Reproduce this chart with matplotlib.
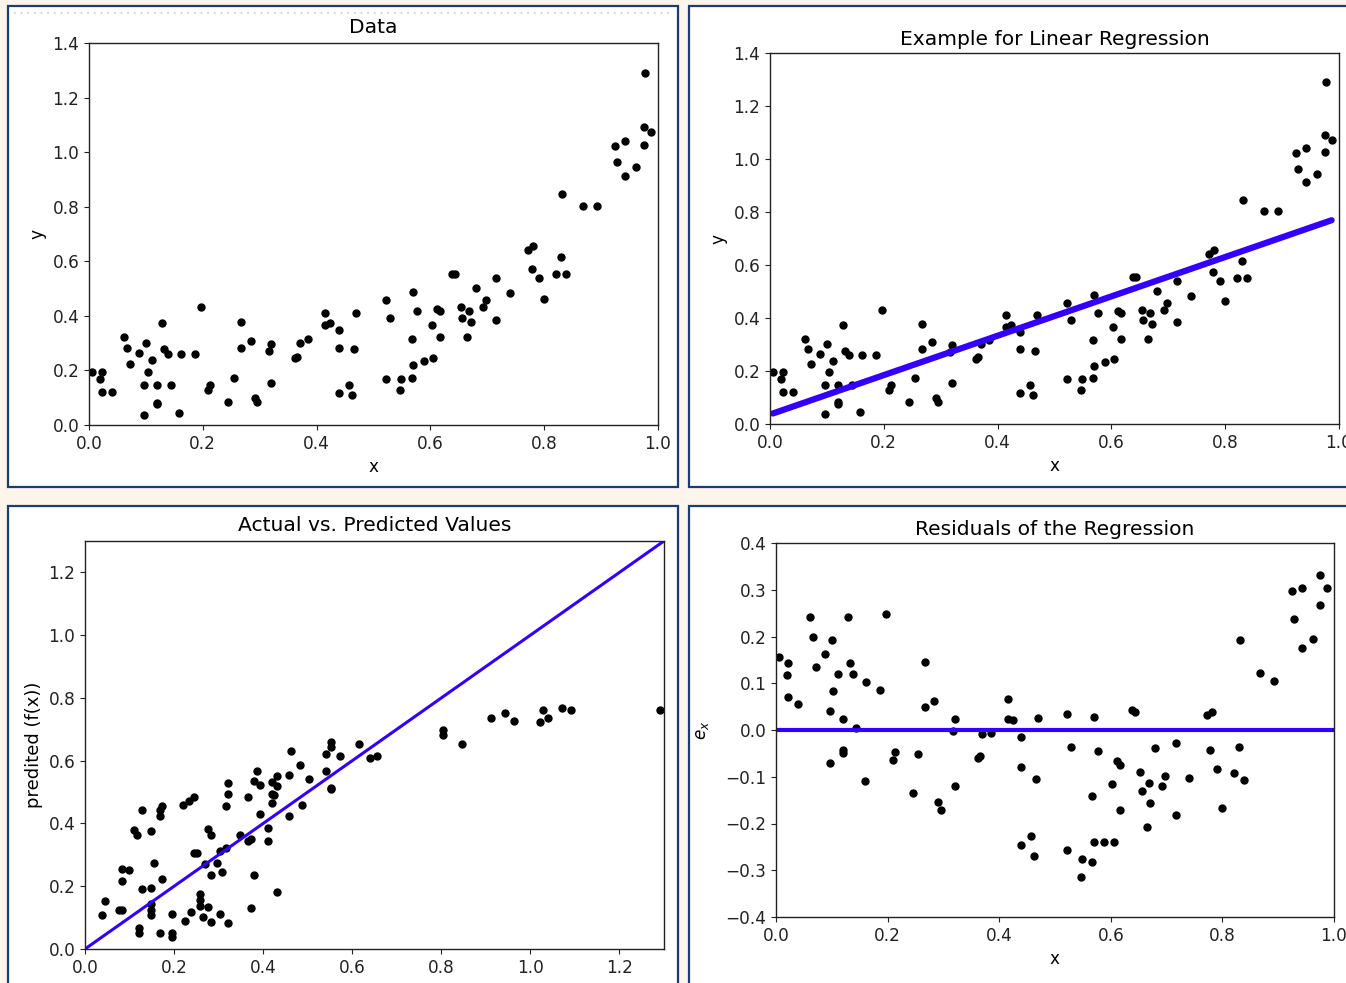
import numpy as np
import matplotlib
matplotlib.use('Agg')
import matplotlib.pyplot as plt
from matplotlib.patches import Rectangle
from matplotlib.lines import Line2D

x = [0.005, 0.019, 0.022, 0.022, 0.040, 0.061, 0.066, 0.072, 0.088, 0.100,
     0.097, 0.097, 0.103, 0.111, 0.120, 0.120, 0.120, 0.129, 0.132, 0.138,
     0.144, 0.159, 0.162, 0.186, 0.197, 0.210, 0.213, 0.245, 0.254, 0.267,
     0.267, 0.284, 0.291, 0.296, 0.317, 0.320, 0.320, 0.362, 0.365, 0.370,
     0.385, 0.415, 0.415, 0.424, 0.439, 0.439, 0.439, 0.457, 0.463, 0.466,
     0.469, 0.522, 0.529, 0.522, 0.546, 0.549, 0.567, 0.567, 0.570, 0.570,
     0.577, 0.588, 0.602, 0.605, 0.612, 0.617, 0.617, 0.638, 0.644, 0.653,
     0.656, 0.665, 0.668, 0.671, 0.680, 0.692, 0.698, 0.716, 0.716, 0.740,
     0.772, 0.781, 0.778, 0.790, 0.800, 0.820, 0.829, 0.832, 0.838, 0.868,
     0.892, 0.925, 0.928, 0.942, 0.942, 0.962, 0.975, 0.975, 0.978, 0.987]
y = [0.195, 0.168, 0.195, 0.122, 0.122, 0.322, 0.283, 0.225, 0.264, 0.302,
     0.148, 0.038, 0.195, 0.239, 0.148, 0.082, 0.076, 0.373, 0.277, 0.259,
     0.148, 0.044, 0.259, 0.259, 0.431, 0.127, 0.148, 0.084, 0.174, 0.379,
     0.283, 0.308, 0.098, 0.084, 0.270, 0.297, 0.154, 0.245, 0.251, 0.302,
     0.316, 0.411, 0.367, 0.373, 0.348, 0.283, 0.116, 0.148, 0.110, 0.277,
     0.411, 0.457, 0.393, 0.168, 0.128, 0.168, 0.174, 0.316, 0.488, 0.219,
     0.419, 0.233, 0.367, 0.245, 0.425, 0.419, 0.322, 0.553, 0.553, 0.431,
     0.393, 0.322, 0.419, 0.379, 0.502, 0.431, 0.457, 0.540, 0.386, 0.482,
     0.641, 0.655, 0.572, 0.540, 0.463, 0.552, 0.616, 0.847, 0.552, 0.803,
     0.803, 1.021, 0.963, 1.040, 0.912, 0.944, 1.028, 1.092, 1.291, 1.072]

titles = ['Data', 'Example for Linear Regression',
          'Actual vs. Predicted Values', 'Residuals of the Regression']

x = np.array(x)
y = np.array(y)

# simple linear regression, as in the original notebook
slope, intercept = np.polyfit(x, y, 1)
pred = slope * x + intercept
resid = y - pred

W, H = 1346, 983
BG = '#fdf5eb'
FRAME = '#1b3a78'
LINE = '#3300ff'

plt.rcParams['font.family'] = ['DejaVu Sans']
plt.rcParams['font.size'] = 12.2
plt.rcParams['axes.titlesize'] = 14.6
plt.rcParams['xtick.color'] = '#222222'
plt.rcParams['ytick.color'] = '#222222'

fig = plt.figure(figsize=(W / 100, H / 100), dpi=100, facecolor=BG)


def frame(left, top, right, bottom):
    r = Rectangle((left / W, 1 - bottom / H), (right - left) / W, (bottom - top) / H,
                  transform=fig.transFigure, facecolor='white', edgecolor=FRAME,
                  linewidth=1.6, zorder=-1)
    fig.add_artist(r)


def px_axes(left, top, right, bottom):
    ax = fig.add_axes([left / W, 1 - bottom / H, (right - left) / W, (bottom - top) / H])
    for s in ax.spines.values():
        s.set_color('#222222')
        s.set_linewidth(1.0)
    return ax


frame(8, 6, 678, 487)
frame(689, 6, 1400, 487)
frame(8, 506, 678, 1040)
frame(689, 506, 1400, 1040)

# faint dotted line at the top of the first screenshot
fig.add_artist(Line2D([14 / W, 672 / W], [1 - 13 / H, 1 - 13 / H], transform=fig.transFigure,
                      color='#cccccc', linestyle=(0, (1, 3)), linewidth=1.2))

# panel 1: raw data
ax1 = px_axes(89, 43, 658, 425)
ax1.plot(x, y, 'o', color='black', ms=5)
ax1.set_xlim(0, 1.0)
ax1.set_ylim(0, 1.4)
ax1.set_title(titles[0], pad=7)
ax1.set_xlabel('x')
ax1.set_ylabel('y')

# panel 2: data with fitted line
ax2 = px_axes(770, 53, 1339, 424)
ax2.plot(x, y, 'o', color='black', ms=5)
xs = np.sort(x)
ax2.plot(xs, slope * xs + intercept, color=LINE, linewidth=4.5, solid_capstyle='round')
ax2.set_xlim(0, 1.0)
ax2.set_ylim(0, 1.4)
ax2.set_title(titles[1], pad=6)
ax2.set_xlabel('x')
ax2.set_ylabel('y')

# panel 3: actual vs predicted
ax3 = px_axes(85, 541, 664, 949)
ax3.plot(y, pred, 'o', color='black', ms=5)
ax3.axline((0, 0), slope=1, color=LINE, linewidth=2.2)
ax3.set_xlim(0, 1.3)
ax3.set_ylim(0, 1.3)
ax3.set_xticks(np.arange(0, 1.3, 0.2))
ax3.set_yticks(np.arange(0, 1.3, 0.2))
ax3.set_title(titles[2], pad=7)
ax3.set_ylabel('predited (f(x))', fontsize=13)

# panel 4: residuals
ax4 = px_axes(776, 543, 1334, 917)
ax4.plot(x, resid, 'o', color='black', ms=5)
ax4.axhline(0, color=LINE, linewidth=3)
ax4.set_xlim(0, 1.0)
ax4.set_ylim(-0.4, 0.4)
ax4.set_title(titles[3], pad=6)
ax4.set_xlabel('x')
ax4.set_ylabel('$e_x$', labelpad=10)

fig.savefig('out.png', dpi=100, facecolor=BG)
